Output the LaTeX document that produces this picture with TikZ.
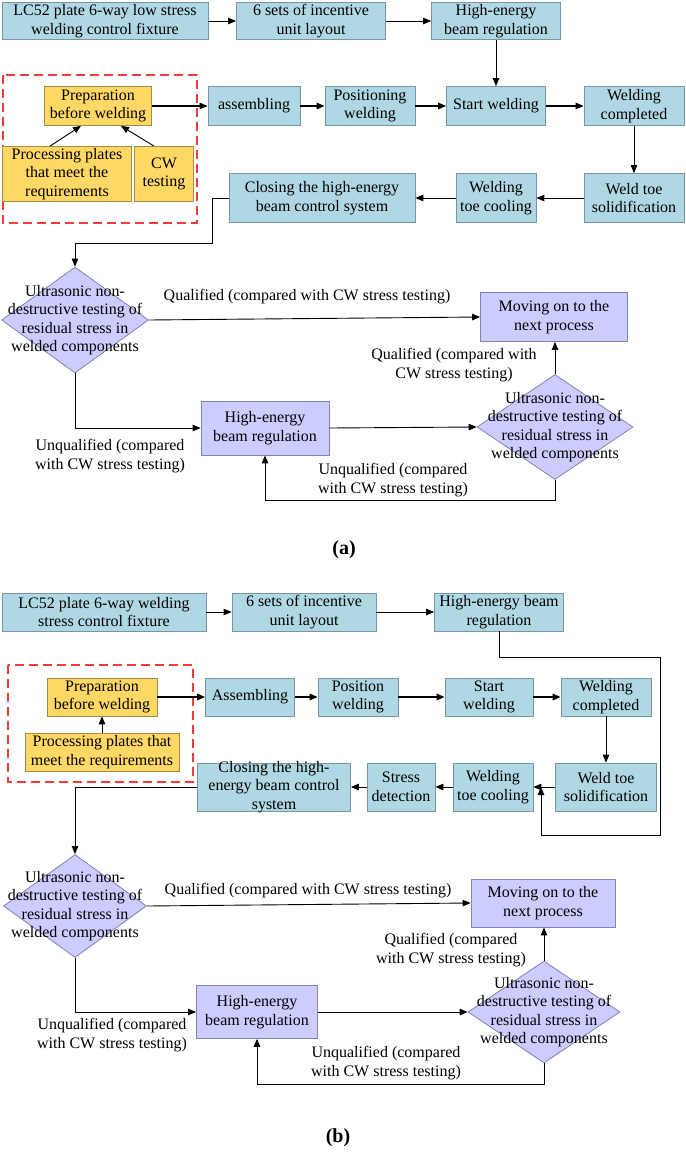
\documentclass[tikz,border=0pt]{standalone}
\usepackage{fontspec}
\setmainfont{Liberation Serif}
\usetikzlibrary{shapes.geometric,arrows.meta}
\definecolor{boxblue}{RGB}{176,216,228}
\definecolor{blueline}{RGB}{120,150,160}
\definecolor{boxyellow}{RGB}{255,216,102}
\definecolor{ylwline}{RGB}{160,140,70}
\definecolor{boxpurple}{RGB}{204,204,255}
\definecolor{prpline}{RGB}{130,130,180}
\definecolor{dashred}{RGB}{240,60,60}
\begin{document}
\begin{tikzpicture}[>={Triangle[length=8pt,width=6.5pt]},x=1pt,y=-1pt,
	every node/.style={font=\fontsize{16}{18.5}\selectfont,align=center,inner sep=0pt},
	wh/.style 2 args={minimum width=#1pt,minimum height=#2pt},
	blk/.style={draw=blueline,fill=boxblue,line width=0.8pt},
	ylw/.style={draw=ylwline,fill=boxyellow,line width=0.8pt},
	prp/.style={draw=prpline,fill=boxpurple,line width=0.8pt},
	dia/.style={diamond,draw=prpline,fill=boxpurple,line width=0.8pt},
	cl/.style={line width=0.9pt},
	thk/.style={line width=1.4pt},
	redframe/.style={draw=dashred,line width=1.2pt,dash pattern=on 9pt off 5pt},
	sublab/.style={font=\fontsize{20}{24}\selectfont\bfseries}]
	\useasboundingbox (0,0) rectangle (685,1153);
	% (a)
	\draw[redframe] (3,75) rectangle (197,223);
	\node[blk,wh={206}{37}] (a1) at (105,21) {LC52 plate 6-way low stress\\welding control fixture};
	\node[blk,wh={149}{37}] (a2) at (311,21) {6 sets of incentive\\unit layout};
	\node[blk,wh={129}{37}] (a3) at (496,21) {High-energy\\beam regulation};
	\node[ylw,wh={107}{39}] (aprep) at (98,106) {Preparation\\before welding};
	\node[blk,wh={92}{39}] (aasm) at (254,106) {assembling};
	\node[blk,wh={90}{39}] (apos) at (370,106) {Positioning\\welding};
	\node[blk,wh={99}{39}] (asw) at (496,106) {Start welding};
	\node[blk,wh={100}{39}] (awc) at (634,106) {Welding\\completed};
	\node[ylw,wh={129}{55}] (aproc) at (67,174) {Processing plates\\that meet the\\requirements};
	\node[ylw,wh={59}{55}] (acw) at (164,174) {CW\\testing};
	\node[blk,wh={186}{49}] (acls) at (322,198) {Closing the high-energy\\beam control system};
	\node[blk,wh={80}{49}] (acool) at (496,198) {Welding\\toe cooling};
	\node[blk,wh={100}{49}] (awts) at (634,198) {Weld toe\\solidification};
	\node[dia,wh={147}{106}] (ad1) at (75,320) {};
	\node (ad1t) at (75,320) {Ultrasonic non-\\destructive testing of\\residual stress in\\welded components};
	\node[prp,wh={147}{49}] (amv) at (554,317) {Moving on to the\\next process};
	\node[dia,wh={156}{105}] (ad2) at (555,427) {};
	\node (ad2t) at (555,427) {Ultrasonic non-\\destructive testing of\\residual stress in\\welded components};
	\node[prp,wh={128}{54}] (ahe) at (265,428) {High-energy\\beam regulation};
	\node (aq1) at (307,297) {Qualified (compared with CW stress testing)};
	\node (aq2) at (454,365) {Qualified (compared with\\CW stress testing)};
	\node (au1) at (110,456) {Unqualified (compared\\with CW stress testing)};
	\node (au2) at (393,480) {Unqualified (compared\\with CW stress testing)};
	\node[sublab] (alab) at (344,550) {(a)};
	\draw[cl,->] (a1) -- (a2);
	\draw[cl,->] (a2) -- (a3);
	\draw[cl,->] (a3) -- (asw);
	\draw[thk,->] (aprep) -- (aasm);
	\draw[thk,->] (aasm) -- (apos);
	\draw[thk,->] (apos) -- (asw);
	\draw[thk,->] (asw) -- (awc);
	\draw[cl,->] (awc) -- (awts);
	\draw[cl,->] (awts) -- (acool);
	\draw[cl,->] (acool) -- (acls);
	\draw[cl,->] (aproc.north -| 50,0) -- (aprep.south -| 81,0);
	\draw[cl,->] (acw.north -| 154,0) -- (aprep.south -| 121,0);
	\draw[cl,->] (acls.west) -| (212,243) -| (ad1.north);
	\draw[cl,->] (ad1.east) -- (amv.west);
	\draw[cl,->] (ad2.north) -- (amv.south -| ad2.north);
	\draw[cl,->] (ad1.south) |- (ahe.west);
	\draw[cl,->] (ahe.east) -- (ad2.west);
	\draw[cl,->] (ad2.south) -- ++(0,21) -| (ahe.south);
	% (b)
	\draw[redframe] (8,665) rectangle (193,782);
	\node[blk,wh={204}{38}] (b1) at (104,612) {LC52 plate 6-way welding\\stress control fixture};
	\node[blk,wh={144}{38}] (b2) at (304,612) {6 sets of incentive\\unit layout};
	\node[blk,wh={129}{38}] (b3) at (499,612) {High-energy beam\\regulation};
	\node[ylw,wh={110}{38}] (bprep) at (102,697) {Preparation\\before welding};
	\node[blk,wh={89}{38}] (basm) at (250,697) {Assembling};
	\node[blk,wh={80}{38}] (bpos) at (358,697) {Position\\welding};
	\node[blk,wh={88}{38}] (bsw) at (489,697) {Start\\welding};
	\node[blk,wh={90}{38}] (bwc) at (606,697) {Welding\\completed};
	\node[ylw,wh={154}{38}] (bproc) at (102,752) {Processing plates that\\meet the requirements};
	\node[blk,wh={153}{48}] (bcls) at (274,787) {};
	\node (bclst) at (274,787) {Closing the high-\\energy beam control\\system};
	\node[blk,wh={68}{48}] (bsd) at (401,787) {Stress\\detection};
	\node[blk,wh={80}{48}] (bcool) at (493,787) {Welding\\toe cooling};
	\node[blk,wh={101}{48}] (bwts) at (606,787) {Weld toe\\solidification};
	\coordinate (bj) at (541,787);
	\node[dia,wh={143}{103}] (bd1) at (75,906) {};
	\node (bd1t) at (75,906) {Ultrasonic non-\\destructive testing of\\residual stress in\\welded components};
	\node[prp,wh={144}{48}] (bmv) at (543,903) {Moving on to the\\next process};
	\node[dia,wh={152}{102}] (bd2) at (544,1012) {};
	\node (bd2t) at (544,1012) {Ultrasonic non-\\destructive testing of\\residual stress in\\welded components};
	\node[prp,wh={121}{53}] (bhe) at (257,1012) {High-energy\\beam regulation};
	\node (bq1) at (308,891) {Qualified (compared with CW stress testing)};
	\node (bq2) at (451,950) {Qualified (compared\\with CW stress testing)};
	\node (bu1) at (112,1035) {Unqualified (compared\\with CW stress testing)};
	\node (bu2) at (386,1063) {Unqualified (compared\\with CW stress testing)};
	\node[sublab] (blab) at (338,1138) {(b)};
	\draw[cl,->] (b1) -- (b2);
	\draw[cl,->] (b2) -- (b3);
	\draw[cl,->] (b3.south) |- (660,657) |- (541,835) -- (bj);
	\draw[thk,->] (bprep) -- (basm);
	\draw[thk,->] (basm) -- (bpos);
	\draw[thk,->] (bpos) -- (bsw);
	\draw[thk,->] (bsw) -- (bwc);
	\draw[cl,->] (bproc) -- (bprep);
	\draw[cl,->] (bwc) -- (bwts);
	\draw[cl,->] (bwts) -- (bcool);
	\draw[cl,->] (bcool) -- (bsd);
	\draw[cl,->] (bsd) -- (bcls);
	\draw[cl,->] (bcls.west) -| (bd1.north);
	\draw[cl,->] (bd1.east) -- (bmv.west);
	\draw[cl,->] (bd2.north) -- (bmv.south -| bd2.north);
	\draw[cl,->] (bd1.south) |- (bhe.west);
	\draw[cl,->] (bhe.east) -- (bd2.west);
	\draw[cl,->] (bd2.south) -- ++(0,21) -| (bhe.south);
\end{tikzpicture}
\end{document}
